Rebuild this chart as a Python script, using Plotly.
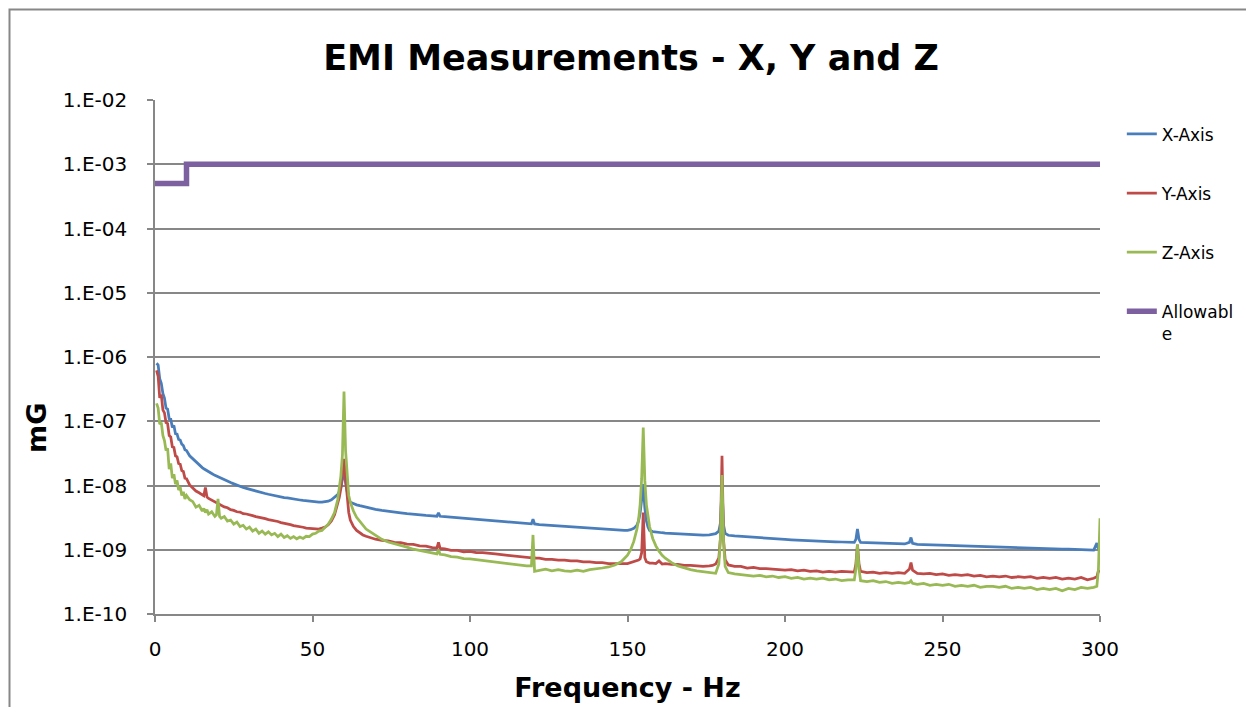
import plotly.graph_objects as go

# ---------------- data ----------------
freq_hz = [
    0.5, 1, 1.5, 2, 2.5, 3, 3.5, 4, 4.5, 5, 5.5, 6, 6.5, 7, 7.5, 8, 8.5, 9, 9.5, 10,
    11, 12, 13, 14, 15, 15.5, 16, 16.5, 17, 18, 19, 19.5, 20, 20.5, 21, 22, 23, 24, 25, 26,
    27, 28, 29, 30, 31, 32, 33, 34, 35, 36, 37, 38, 39, 40, 41, 42, 43, 44, 45, 46, 47, 48,
    49, 50, 51, 52, 53, 54, 55, 56, 57,
    58, 58.5, 59, 59.5, 60, 60.5, 61, 61.5, 62, 63, 64, 65, 66, 67, 68, 69, 70,
    72, 74, 76, 78, 80, 82, 84, 86, 88, 89.5, 90, 90.5,
    92, 94, 96, 98, 100, 102, 104, 106, 108, 110, 112, 114, 116, 118, 119.5, 120, 120.5,
    122, 124, 126, 128, 130, 132, 134, 136, 138, 140, 142, 144, 146,
    148, 149, 150, 151, 152, 153, 153.5, 154, 154.5, 155, 155.5, 156, 156.5, 157, 158, 159,
    160, 161, 162, 164, 166, 168, 170, 172, 174, 176,
    177, 178, 179, 179.5, 180, 180.5, 181,
    182, 184, 186, 188, 190, 192, 194, 196, 198, 200, 202, 204, 206, 208, 210, 212, 214,
    216, 218, 220, 222, 222.5, 223, 223.5, 224,
    226, 228, 230, 232, 234, 236, 238, 239.5, 240, 240.5,
    242, 244, 246, 248, 250, 252, 254, 256, 258, 260, 262, 264, 266, 268, 270, 272, 274,
    276, 278, 280, 282, 284, 286, 288, 290, 292, 294, 296, 298, 299, 299.5, 300,
]

x_axis_mg = [
    8.0e-7, 7.5e-7, 4.6e-7, 3.9e-7, 2.7e-7, 2.3e-7, 1.6e-7, 1.55e-7, 1.1e-7, 1.08e-7,
    8.0e-8, 8.6e-8, 6.4e-8, 6.3e-8, 5.2e-8, 5.1e-8, 4.4e-8, 4.2e-8, 3.6e-8, 3.5e-8,
    2.9e-8, 2.6e-8, 2.3e-8, 2.05e-8, 1.9e-8, 1.82e-8, 1.75e-8, 1.7e-8, 1.64e-8, 1.54e-8,
    1.44e-8, 1.4e-8, 1.36e-8, 1.32e-8, 1.28e-8, 1.22e-8, 1.16e-8, 1.11e-8, 1.06e-8, 1.01e-8,
    9.7e-9, 9.3e-9, 9.0e-9, 8.7e-9, 8.4e-9, 8.15e-9, 7.9e-9, 7.7e-9, 7.5e-9, 7.3e-9,
    7.1e-9, 6.95e-9, 6.8e-9, 6.65e-9, 6.5e-9, 6.4e-9, 6.25e-9, 6.15e-9, 6.05e-9, 5.95e-9,
    5.85e-9, 5.75e-9, 5.7e-9, 5.6e-9, 5.55e-9, 5.5e-9, 5.5e-9, 5.55e-9, 5.7e-9, 6.0e-9, 6.5e-9,
    7.2e-9, 8.0e-9, 9.3e-9, 1.25e-8, 1.8e-8, 1.1e-8, 7.5e-9, 6.0e-9, 5.5e-9, 5.2e-9,
    5.0e-9, 4.85e-9, 4.7e-9, 4.55e-9, 4.45e-9, 4.35e-9, 4.25e-9,
    4.1e-9, 3.95e-9, 3.85e-9, 3.75e-9, 3.65e-9, 3.55e-9, 3.5e-9, 3.42e-9, 3.38e-9,
    3.33e-9, 3.75e-9, 3.32e-9,
    3.27e-9, 3.2e-9, 3.13e-9, 3.07e-9, 3.02e-9, 2.97e-9, 2.92e-9, 2.87e-9, 2.82e-9,
    2.77e-9, 2.72e-9, 2.67e-9, 2.62e-9, 2.57e-9, 2.53e-9, 3.0e-9, 2.52e-9,
    2.47e-9, 2.43e-9, 2.39e-9, 2.35e-9, 2.31e-9, 2.27e-9, 2.23e-9, 2.2e-9, 2.16e-9,
    2.12e-9, 2.09e-9, 2.06e-9, 2.03e-9,
    2.01e-9, 2.0e-9, 2.01e-9, 2.05e-9, 2.15e-9, 2.4e-9, 2.8e-9, 3.7e-9, 6.0e-9, 1.05e-8,
    4.5e-9, 2.8e-9, 2.25e-9, 2.0e-9, 1.92e-9, 1.88e-9,
    1.86e-9, 1.84e-9, 1.82e-9, 1.79e-9, 1.77e-9, 1.75e-9, 1.72e-9, 1.7e-9, 1.69e-9, 1.7e-9,
    1.72e-9, 1.78e-9, 1.95e-9, 2.6e-9, 9.0e-9, 2.4e-9, 1.8e-9,
    1.68e-9, 1.64e-9, 1.61e-9, 1.58e-9, 1.56e-9, 1.53e-9, 1.51e-9, 1.49e-9, 1.47e-9,
    1.45e-9, 1.43e-9, 1.41e-9, 1.4e-9, 1.38e-9, 1.37e-9, 1.36e-9, 1.35e-9,
    1.33e-9, 1.32e-9, 1.31e-9, 1.3e-9, 1.45e-9, 2.1e-9, 1.45e-9, 1.3e-9,
    1.29e-9, 1.28e-9, 1.27e-9, 1.26e-9, 1.25e-9, 1.24e-9, 1.23e-9, 1.3e-9, 1.55e-9, 1.26e-9,
    1.21e-9, 1.2e-9, 1.2e-9, 1.19e-9, 1.2e-9, 1.17e-9, 1.16e-9, 1.15e-9, 1.14e-9, 1.13e-9,
    1.12e-9, 1.11e-9, 1.11e-9, 1.09e-9, 1.09e-9, 1.07e-9, 1.08e-9,
    1.06e-9, 1.05e-9, 1.05e-9, 1.04e-9, 1.03e-9, 1.03e-9, 1.02e-9, 1.02e-9, 1.01e-9,
    1.0e-9, 1.0e-9, 0.99e-9, 1.27e-9, 1.02e-9, 1.0e-9,
]

y_axis_mg = [
    6.2e-7, 5.0e-7, 2.3e-7, 2.6e-7, 1.5e-7, 1.35e-7, 9.5e-8, 9.2e-8, 6.0e-8, 5.7e-8,
    4.0e-8, 3.9e-8, 2.9e-8, 2.8e-8, 2.2e-8, 2.15e-8, 1.7e-8, 1.65e-8, 1.3e-8, 1.28e-8,
    1.02e-8, 9.2e-9, 8.2e-9, 7.7e-9, 7.0e-9, 6.9e-9, 9.3e-9, 6.6e-9, 6.3e-9, 5.9e-9,
    5.6e-9, 5.4e-9, 5.3e-9, 5.1e-9, 4.95e-9, 4.65e-9, 4.5e-9, 4.2e-9, 4.1e-9, 3.9e-9,
    3.85e-9, 3.65e-9, 3.6e-9, 3.45e-9, 3.4e-9, 3.28e-9, 3.22e-9, 3.1e-9, 3.05e-9, 2.95e-9,
    2.9e-9, 2.8e-9, 2.75e-9, 2.65e-9, 2.6e-9, 2.5e-9, 2.46e-9, 2.38e-9, 2.35e-9, 2.27e-9,
    2.24e-9, 2.17e-9, 2.15e-9, 2.1e-9, 2.12e-9, 2.1e-9, 2.17e-9, 2.25e-9, 2.45e-9, 2.8e-9, 3.5e-9,
    5.0e-9, 6.5e-9, 9.0e-9, 1.4e-8, 2.6e-8, 1.3e-8, 6.0e-9, 3.8e-9, 2.9e-9, 2.3e-9,
    2.0e-9, 1.82e-9, 1.7e-9, 1.62e-9, 1.55e-9, 1.5e-9, 1.46e-9,
    1.4e-9, 1.37e-9, 1.3e-9, 1.29e-9, 1.22e-9, 1.21e-9, 1.15e-9, 1.14e-9, 1.08e-9,
    1.07e-9, 1.3e-9, 1.05e-9,
    1.03e-9, 0.98e-9, 0.98e-9, 0.93e-9, 0.94e-9, 0.9e-9, 0.9e-9, 0.87e-9, 0.86e-9,
    0.84e-9, 0.82e-9, 0.81e-9, 0.78e-9, 0.77e-9, 0.75e-9, 0.82e-9, 0.74e-9,
    0.74e-9, 0.71e-9, 0.71e-9, 0.69e-9, 0.69e-9, 0.67e-9, 0.67e-9, 0.65e-9, 0.65e-9,
    0.63e-9, 0.63e-9, 0.61e-9, 0.61e-9,
    0.6e-9, 0.61e-9, 0.61e-9, 0.63e-9, 0.64e-9, 0.67e-9, 0.69e-9, 0.72e-9, 0.9e-9, 3.8e-9,
    0.75e-9, 0.65e-9, 0.63e-9, 0.62e-9, 0.62e-9, 0.61e-9,
    0.67e-9, 0.6e-9, 0.61e-9, 0.59e-9, 0.59e-9, 0.57e-9, 0.57e-9, 0.56e-9, 0.55e-9, 0.56e-9,
    0.57e-9, 0.6e-9, 0.75e-9, 1.5e-9, 2.9e-8, 1.4e-9, 0.7e-9,
    0.58e-9, 0.55e-9, 0.55e-9, 0.52e-9, 0.53e-9, 0.51e-9, 0.51e-9, 0.5e-9, 0.5e-9,
    0.48e-9, 0.49e-9, 0.47e-9, 0.48e-9, 0.46e-9, 0.47e-9, 0.45e-9, 0.46e-9,
    0.45e-9, 0.46e-9, 0.45e-9, 0.45e-9, 0.6e-9, 1.2e-9, 0.6e-9, 0.46e-9,
    0.44e-9, 0.45e-9, 0.43e-9, 0.44e-9, 0.43e-9, 0.44e-9, 0.43e-9, 0.5e-9, 0.63e-9, 0.48e-9,
    0.43e-9, 0.42e-9, 0.43e-9, 0.41e-9, 0.42e-9, 0.4e-9, 0.41e-9, 0.4e-9, 0.41e-9, 0.39e-9,
    0.4e-9, 0.38e-9, 0.39e-9, 0.38e-9, 0.39e-9, 0.37e-9, 0.38e-9,
    0.37e-9, 0.38e-9, 0.36e-9, 0.37e-9, 0.36e-9, 0.37e-9, 0.35e-9, 0.36e-9, 0.35e-9,
    0.37e-9, 0.34e-9, 0.36e-9, 0.38e-9, 0.47e-9, 0.45e-9,
]

z_axis_mg = [
    1.9e-7, 1.6e-7, 9.0e-8, 9.5e-8, 6.0e-8, 5.0e-8, 3.5e-8, 3.8e-8, 1.8e-8, 2.2e-8,
    1.3e-8, 1.5e-8, 1.05e-8, 1.2e-8, 8.5e-9, 9.5e-9, 7.0e-9, 8.0e-9, 6.2e-9, 7.0e-9,
    6.0e-9, 5.6e-9, 4.6e-9, 4.9e-9, 4.0e-9, 4.4e-9, 3.8e-9, 4.2e-9, 3.6e-9, 3.9e-9,
    3.3e-9, 3.5e-9, 6.2e-9, 3.3e-9, 3.1e-9, 3.3e-9, 2.8e-9, 2.9e-9, 2.5e-9, 2.7e-9,
    2.3e-9, 2.4e-9, 2.1e-9, 2.25e-9, 1.95e-9, 2.1e-9, 1.8e-9, 1.95e-9, 1.75e-9, 1.9e-9,
    1.7e-9, 1.8e-9, 1.6e-9, 1.75e-9, 1.55e-9, 1.65e-9, 1.5e-9, 1.6e-9, 1.48e-9, 1.58e-9,
    1.5e-9, 1.62e-9, 1.6e-9, 1.75e-9, 1.8e-9, 1.95e-9, 2.0e-9, 2.25e-9, 2.5e-9, 3.0e-9, 3.8e-9,
    6.0e-9, 8.5e-9, 1.4e-8, 3.0e-8, 2.9e-7, 3.5e-8, 1.5e-8, 7.0e-9, 5.5e-9, 4.0e-9,
    3.2e-9, 2.8e-9, 2.4e-9, 2.1e-9, 1.95e-9, 1.8e-9, 1.65e-9,
    1.45e-9, 1.32e-9, 1.25e-9, 1.16e-9, 1.1e-9, 1.02e-9, 0.98e-9, 0.92e-9, 0.89e-9,
    0.86e-9, 1.0e-9, 0.85e-9,
    0.83e-9, 0.78e-9, 0.77e-9, 0.73e-9, 0.72e-9, 0.7e-9, 0.69e-9, 0.66e-9, 0.65e-9,
    0.62e-9, 0.61e-9, 0.59e-9, 0.57e-9, 0.56e-9, 0.56e-9, 1.7e-9, 0.46e-9,
    0.48e-9, 0.5e-9, 0.47e-9, 0.49e-9, 0.47e-9, 0.46e-9, 0.48e-9, 0.46e-9, 0.49e-9,
    0.5e-9, 0.52e-9, 0.54e-9, 0.58e-9,
    0.65e-9, 0.72e-9, 0.82e-9, 1.0e-9, 1.35e-9, 2.1e-9, 2.9e-9, 5.0e-9, 1.3e-8, 8.0e-8,
    1.2e-8, 5.0e-9, 3.2e-9, 2.3e-9, 1.5e-9, 1.15e-9,
    0.95e-9, 0.82e-9, 0.74e-9, 0.63e-9, 0.56e-9, 0.52e-9, 0.49e-9, 0.47e-9, 0.46e-9, 0.45e-9,
    0.44e-9, 0.43e-9, 0.6e-9, 1.5e-9, 1.45e-8, 1.3e-9, 0.55e-9,
    0.44e-9, 0.42e-9, 0.41e-9, 0.4e-9, 0.39e-9, 0.4e-9, 0.38e-9, 0.39e-9, 0.37e-9,
    0.38e-9, 0.36e-9, 0.37e-9, 0.35e-9, 0.36e-9, 0.35e-9, 0.36e-9, 0.34e-9,
    0.35e-9, 0.33e-9, 0.34e-9, 0.34e-9, 0.5e-9, 1.2e-9, 0.5e-9, 0.33e-9,
    0.32e-9, 0.33e-9, 0.31e-9, 0.32e-9, 0.3e-9, 0.31e-9, 0.3e-9, 0.31e-9, 0.33e-9, 0.3e-9,
    0.29e-9, 0.3e-9, 0.28e-9, 0.29e-9, 0.28e-9, 0.29e-9, 0.27e-9, 0.28e-9, 0.27e-9, 0.28e-9,
    0.26e-9, 0.27e-9, 0.27e-9, 0.26e-9, 0.27e-9, 0.25e-9, 0.26e-9,
    0.25e-9, 0.26e-9, 0.24e-9, 0.25e-9, 0.24e-9, 0.25e-9, 0.23e-9, 0.25e-9, 0.24e-9,
    0.26e-9, 0.25e-9, 0.26e-9, 0.27e-9, 0.5e-9, 3.1e-9,
]

allow_freq = [0, 10, 10, 300]
allow_mg = [5e-4, 5e-4, 1e-3, 1e-3]

series_names = ["X-Axis", "Y-Axis", "Z-Axis"]
allow_name = "Allowabl<br>e"

x_tick_vals = [0, 50, 100, 150, 200, 250, 300]
y_tick_vals = [1e-10, 1e-9, 1e-8, 1e-7, 1e-6, 1e-5, 1e-4, 1e-3, 1e-2]
y_tick_text = ["1.E-10", "1.E-09", "1.E-08", "1.E-07", "1.E-06", "1.E-05",
               "1.E-04", "1.E-03", "1.E-02"]

assert len(freq_hz) == len(x_axis_mg) == len(y_axis_mg) == len(z_axis_mg), (
    len(freq_hz), len(x_axis_mg), len(y_axis_mg), len(z_axis_mg))

# ---------------- styling ----------------
FONT = "DejaVu Sans"
GRAY = "#878787"
colors = ["#4A7EBB", "#BE4B48", "#98B954"]
allow_color = "#7D60A0"

# the page body adds an 8px offset; the figure is sized to fit the window
W, H = 1246, 699
ML, MT = 147, 92          # plot area at 155..1100 x 100..614 on screen
PW, PH = 945, 514

fig = go.Figure()
for name, vals, col in zip(series_names, [x_axis_mg, y_axis_mg, z_axis_mg], colors):
    fig.add_trace(go.Scatter(
        x=freq_hz, y=vals, mode="lines", name=name, legendgroup=name,
        line=dict(color=col, width=2.75),
    ))
fig.add_trace(go.Scatter(
    x=allow_freq, y=allow_mg, mode="lines", name=allow_name, legendgroup="allow",
    line=dict(color=allow_color, width=5.5),
))

fig.update_layout(
    width=W, height=H,
    margin=dict(l=ML, r=W - ML - PW, t=MT, b=H - MT - PH, autoexpand=False),
    paper_bgcolor="white", plot_bgcolor="white",
    font=dict(family=FONT, color="black"),
    title=dict(
        text="<b>EMI Measurements - X, Y and Z</b>",
        font=dict(family=FONT, size=35, color="black"),
        x=623 / W, xanchor="center", xref="container",
        y=1 - 50 / H, yanchor="middle", yref="container",
    ),
    xaxis=dict(
        range=[0, 300], tickvals=x_tick_vals,
        showline=True, linecolor=GRAY, linewidth=1.5,
        ticks="outside", ticklen=6, tickcolor=GRAY, tickwidth=1.5,
        showgrid=False, zeroline=False,
        tickfont=dict(family=FONT, size=20, color="black"),
        ticklabelstandoff=10,
        title=dict(text="<b>Frequency - Hz</b>", font=dict(family=FONT, size=27, color="black"),
                   standoff=18),
    ),
    yaxis=dict(
        type="log", range=[-10, -2], tickvals=y_tick_vals, ticktext=y_tick_text,
        showline=True, linecolor=GRAY, linewidth=1.5,
        ticks="outside", ticklen=6, tickcolor=GRAY, tickwidth=1.5,
        showgrid=True, gridcolor=GRAY, gridwidth=1.5, zeroline=False,
        tickfont=dict(family=FONT, size=20, color="black"),
        ticklabelstandoff=16,
    ),
    legend=dict(
        x=1.0231, xanchor="left", y=0.968, yanchor="top",
        font=dict(family=FONT, size=17, color="black"),
        tracegroupgap=34, valign="top", bgcolor="rgba(0,0,0,0)",
        itemwidth=30,
    ),
    shapes=[dict(
        type="rect", xref="paper", yref="paper",
        x0=(9.5 - 155) / PW, x1=(1252 - 155) / PW,
        y0=(614 - 730) / PH, y1=(614 - 9.5) / PH,
        line=dict(color=GRAY, width=2), layer="below",
    )],
    annotations=[dict(
        text="<b>mG</b>", textangle=-90, showarrow=False,
        xref="paper", yref="paper",
        x=(36 - 155) / PW, y=(614 - 428) / PH,
        xanchor="center", yanchor="middle",
        font=dict(family=FONT, size=27, color="black"),
    )],
)

fig.write_html("out.html")
